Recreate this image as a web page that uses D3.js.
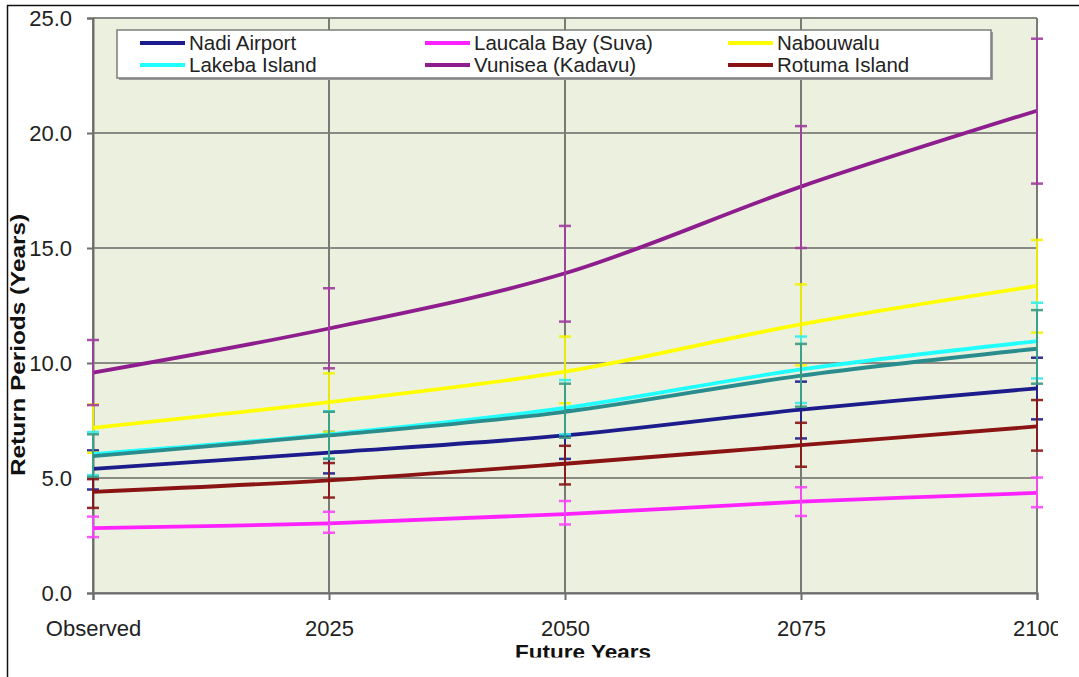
<!DOCTYPE html>
<html>
<head>
<meta charset="utf-8">
<script src="https://cdn.jsdelivr.net/npm/d3@7"></script>
<style>
  html, body { margin: 0; padding: 0; background: #ffffff; }
  svg { display: block; font-family: "Liberation Sans", Arial, sans-serif; }
</style>
</head>
<body>
<svg id="chart" width="1079" height="677"></svg>
<script>
// ---------- data ----------
const categories = ["Observed", "2025", "2050", "2075", "2100"];
const yTicks = [0, 5, 10, 15, 20, 25];

const nadiAirport   = [5.40, 6.10, 6.85, 7.97, 8.90];
const nadiHigh      = [6.20, 7.00, 8.00, 9.19, 10.23];
const nadiLow       = [4.50, 5.20, 5.83, 6.72, 7.55];

const laucalaBay    = [2.82, 3.03, 3.43, 3.97, 4.35];
const laucalaHigh   = [3.32, 3.53, 4.00, 4.60, 5.02];
const laucalaLow    = [2.43, 2.62, 2.98, 3.35, 3.73];

const nabouwalu     = [7.18, 8.30, 9.62, 11.68, 13.35];
const nabouwaluHigh = [8.20, 9.55, 11.15, 13.42, 15.35];
const nabouwaluLow  = [6.10, 7.00, 8.25, 9.90, 11.32];

const lakebaIsland  = [6.04, 6.90, 8.05, 9.72, 10.95];
const lakebaHigh    = [7.00, 7.90, 9.26, 11.15, 12.62];
const lakebaLow     = [5.13, 5.85, 6.90, 8.26, 9.33];

const vunisea       = [9.58, 11.50, 13.90, 17.67, 20.97];
const vunisuaHigh   = [11.00, 13.25, 15.96, 20.30, 24.10];
const vunisuaLow    = [8.17, 9.77, 11.80, 15.00, 17.80];

const rotumaIsland  = [4.40, 4.90, 5.62, 6.43, 7.24];
const rotumaHigh    = [4.95, 5.65, 6.40, 7.40, 8.39];
const rotumaLow     = [3.70, 4.15, 4.72, 5.49, 6.19];

const seventhSeries = [5.95, 6.85, 7.88, 9.45, 10.62];
const seventhHigh   = [6.90, 7.88, 9.10, 10.83, 12.30];
const seventhLow    = [5.05, 5.83, 6.75, 8.10, 9.10];

const series = [
  { name: "Nadi Airport",        values: nadiAirport,  hi: nadiHigh,      lo: nadiLow,      color: "#1c1c8c", err: "#1c1c8c", legend: true },
  { name: "Laucala Bay (Suva)",  values: laucalaBay,   hi: laucalaHigh,   lo: laucalaLow,   color: "#ff22ff", err: "#ff44ff", legend: true },
  { name: "Nabouwalu",           values: nabouwalu,    hi: nabouwaluHigh, lo: nabouwaluLow, color: "#ffff00", err: "#f4f400", legend: true },
  { name: "Lakeba Island",       values: lakebaIsland, hi: lakebaHigh,    lo: lakebaLow,    color: "#22ffff", err: "#33eeee", legend: true },
  { name: "Vunisea (Kadavu)",    values: vunisea,      hi: vunisuaHigh,   lo: vunisuaLow,   color: "#8e1e8e", err: "#a03ca0", legend: true },
  { name: "Rotuma Island",       values: rotumaIsland, hi: rotumaHigh,    lo: rotumaLow,    color: "#8a1414", err: "#8a1414", legend: true },
  { name: "",                    values: seventhSeries, hi: seventhHigh,  lo: seventhLow,   color: "#2a8c8c", err: "#3a9a80", legend: false }
];

// ---------- layout ----------
const svg = d3.select("#chart");
const W = 1079, H = 677;
const plot = { left: 93, right: 1037, top: 18, bottom: 593 };

svg.append("rect").attr("width", W).attr("height", H).attr("fill", "#ffffff");

// outer frame of the screenshot
svg.append("line").attr("x1", 7).attr("x2", W).attr("y1", 5.5).attr("y2", 5.5)
  .attr("stroke", "#111").attr("stroke-width", 1.5);
svg.append("line").attr("x1", 7.5).attr("x2", 7.5).attr("y1", 5).attr("y2", H)
  .attr("stroke", "#111").attr("stroke-width", 1.5);

const defs = svg.append("defs");
defs.append("clipPath").attr("id", "imgClip")
  .append("rect").attr("x", 8).attr("y", 6.5).attr("width", 1050).attr("height", 651);

const g = svg.append("g").attr("clip-path", "url(#imgClip)");

const x = d3.scalePoint().domain(categories).range([plot.left, plot.right]);
const y = d3.scaleLinear().domain([0, 25]).range([plot.bottom, plot.top]);

// plot background
g.append("rect")
  .attr("x", plot.left).attr("y", plot.top)
  .attr("width", plot.right - plot.left).attr("height", plot.bottom - plot.top)
  .attr("fill", "#ebf1de");

// horizontal grid
g.append("g").selectAll("line").data(yTicks).join("line")
  .attr("x1", plot.left).attr("x2", plot.right)
  .attr("y1", d => y(d)).attr("y2", d => y(d))
  .attr("stroke", "#8a8a84").attr("stroke-width", 2);

// vertical grid
g.append("g").selectAll("line").data(categories).join("line")
  .attr("x1", d => x(d)).attr("x2", d => x(d))
  .attr("y1", plot.top).attr("y2", plot.bottom)
  .attr("stroke", "#7a7a74").attr("stroke-width", 2);

// y axis
const yAxis = d3.axisLeft(y).tickValues(yTicks).tickFormat(d3.format(".1f")).tickSize(6).tickPadding(15);
const yG = g.append("g").attr("transform", `translate(${plot.left},0)`).call(yAxis);
yG.select(".domain").attr("stroke", "#6e6e6e").attr("stroke-width", 2);
yG.selectAll(".tick line").attr("stroke", "#6e6e6e").attr("stroke-width", 2);
yG.selectAll(".tick text").attr("font-size", 22).attr("fill", "#222")
  .attr("font-family", "Liberation Sans, Arial, sans-serif");

// x axis
const xAxis = d3.axisBottom(x).tickSize(7).tickPadding(20);
const xG = g.append("g").attr("transform", `translate(0,${plot.bottom})`).call(xAxis);
xG.select(".domain").attr("stroke", "#6e6e6e").attr("stroke-width", 2);
xG.selectAll(".tick line").attr("stroke", "#6e6e6e").attr("stroke-width", 2);
xG.selectAll(".tick text").attr("font-size", 22).attr("fill", "#222")
  .attr("font-family", "Liberation Sans, Arial, sans-serif");

// axis titles
g.append("text")
  .attr("x", 583).attr("y", 659)
  .attr("text-anchor", "middle")
  .attr("font-size", 21).attr("font-weight", "bold").attr("fill", "#111")
  .attr("textLength", 136).attr("lengthAdjust", "spacingAndGlyphs")
  .text("Future Years");

g.append("text")
  .attr("transform", "translate(25,345) rotate(-90)")
  .attr("text-anchor", "middle")
  .attr("font-size", 21).attr("font-weight", "bold").attr("fill", "#111")
  .attr("textLength", 262).attr("lengthAdjust", "spacingAndGlyphs")
  .text("Return Periods (Years)");

// series
const line = d3.line()
  .x((d, i) => x(categories[i]))
  .y(d => y(d))
  .curve(d3.curveCatmullRom.alpha(0.5));

series.forEach(s => {
  const sg = g.append("g");
  sg.append("path")
    .attr("d", line(s.values))
    .attr("fill", "none")
    .attr("stroke", s.color)
    .attr("stroke-width", 3.8);

  const eb = sg.append("g").attr("stroke", s.err).attr("stroke-width", 2).attr("opacity", 0.9);
  categories.forEach((c, i) => {
    const cx = x(c);
    eb.append("line").attr("x1", cx).attr("x2", cx).attr("y1", y(s.hi[i])).attr("y2", y(s.lo[i]));
    [s.hi[i], s.lo[i]].forEach(v => {
      eb.append("line").attr("x1", cx - 6).attr("x2", cx + 6)
        .attr("y1", y(v)).attr("y2", y(v)).attr("stroke-width", 2.5);
    });
  });
});

// legend
const legend = g.append("g");
legend.append("rect")
  .attr("x", 119).attr("y", 32).attr("width", 874).attr("height", 48)
  .attr("fill", "#9a9a9a");
legend.append("rect")
  .attr("x", 117).attr("y", 30).attr("width", 874).attr("height", 48)
  .attr("fill", "#ffffff").attr("stroke", "#7d7d7d").attr("stroke-width", 1.5);

const colX = [140, 425, 728];
const rowY = [43, 65];
series.filter(s => s.legend).forEach((s, i) => {
  const col = i % 3, row = Math.floor(i / 3);
  const lg = legend.append("g").attr("transform", `translate(${colX[col]},${rowY[row]})`);
  lg.append("line").attr("x1", 0).attr("x2", 45).attr("y1", 0).attr("y2", 0)
    .attr("stroke", s.color).attr("stroke-width", 3.8);
  lg.append("text").attr("x", 49).attr("y", 7)
    .attr("font-size", 20.5).attr("fill", "#222").text(s.name);
});
</script>
</body>
</html>
